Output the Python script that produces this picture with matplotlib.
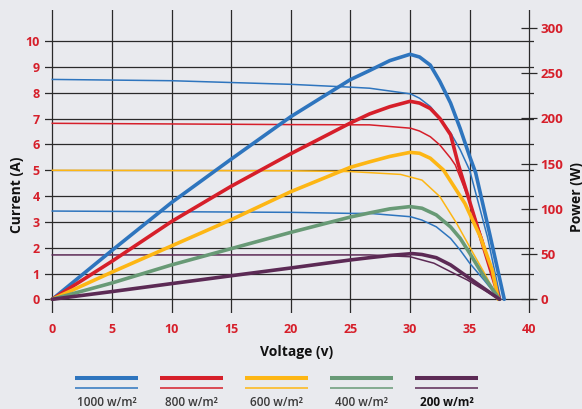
import matplotlib.pyplot as plt

plt.rcParams['font.family'] = ['Open Sans', 'DejaVu Sans']

# I-V curves (current, A)
v_i1000 = [0, 10, 20, 25, 26.6, 30.05, 30.8, 31.7, 32.5, 33.4, 34.2, 35.0, 36.5, 37.6]
i_1000 = [8.52, 8.47, 8.33, 8.22, 8.18, 7.96, 7.79, 7.47, 7.02, 6.45, 5.8, 5.0, 2.4, 0]
v_i800 = [0, 20, 26.6, 30.05, 30.8, 31.7, 32.5, 33.4, 33.8, 34.9, 36.1, 37.5]
i_800 = [6.82, 6.77, 6.76, 6.63, 6.52, 6.3, 5.98, 5.47, 5.2, 3.9, 2.3, 0]
v_i600 = [0, 20, 25, 29.2, 31, 32.5, 33.9, 35.3, 36.4, 37.4]
i_600 = [5.0, 4.98, 4.95, 4.84, 4.62, 3.98, 2.95, 1.78, 0.88, 0]
v_i400 = [0, 20, 25, 26.6, 30.05, 31, 32.2, 33.4, 34.2, 35, 36.2, 37.5]
i_400 = [3.42, 3.37, 3.33, 3.33, 3.2, 3.07, 2.81, 2.36, 1.91, 1.4, 0.75, 0]
v_i200 = [0, 20, 26.6, 30, 32, 33.4, 34.8, 36.2, 37.5]
i_200 = [1.72, 1.72, 1.72, 1.65, 1.4, 1.07, 0.75, 0.36, 0]

# P-V curves (power, W)
v_p1000 = [0, 5, 10, 15, 20, 25, 26.6, 28.3, 30, 30.8, 31.7, 32.5, 33.4, 34.2, 35, 35.5, 36.7, 37.9]
p_1000 = [0, 54, 107, 155, 202, 243, 253, 264, 271, 268, 259, 241, 217, 189, 158, 140, 71, 0]
v_p800 = [0, 5, 10, 15, 20, 25, 26.6, 28.3, 30, 30.8, 31.7, 32.5, 33.4, 34.05, 35.0, 36.2, 37.5]
p_800 = [0, 42, 86, 125, 161, 195, 205, 213, 219, 217, 211, 200, 182, 149, 108, 56, 0]
v_p600 = [0, 5, 10, 15, 20, 25, 26.6, 28.3, 30, 30.8, 31.7, 32.8, 34.6, 35.9, 36.9, 37.4]
p_600 = [0, 30, 59, 88, 119, 146, 152, 158, 162.5, 161.5, 156, 143, 106, 69, 32, 0]
v_p400 = [0, 5, 10, 15, 20, 25, 26.6, 28.3, 30, 31, 32.2, 33.4, 34.2, 35, 36.2, 37.5]
p_400 = [0, 18, 38, 56, 74, 91, 95.5, 100, 102.5, 100.7, 93.3, 80, 67.5, 51, 25, 0]
v_p200 = [0, 5, 10, 15, 20, 25, 26.6, 28.3, 30.2, 31, 32.2, 33.4, 34.8, 36.2, 37.5]
p_200 = [0, 8.5, 17.3, 26, 34.6, 43.5, 46, 48.5, 50.5, 49.5, 46, 38, 25, 12, 0]

labels = ['1000 w/m²', '800 w/m²', '600 w/m²', '400 w/m²', '200 w/m²']
colors = ['#2e75be', '#d61f2a', '#fdb614', '#689a76', '#5c2a55']
# the 400 w/m² current line is drawn blue in the original
thin_colors = ['#2e75be', '#d61f2a', '#fdb614', '#2e75be', '#5c2a55']

current = [(v_i1000, i_1000), (v_i800, i_800), (v_i600, i_600),
           (v_i400, i_400), (v_i200, i_200)]
power = [(v_p1000, p_1000), (v_p800, p_800), (v_p600, p_600),
         (v_p400, p_400), (v_p200, p_200)]

red = '#d61f2a'
bg = '#e9eaee'

fig = plt.figure(figsize=(5.82, 4.09), dpi=100, facecolor=bg)
ax = fig.add_axes([45.3 / 582, 96 / 409, 489 / 582, 303 / 409])
ax.set_facecolor('none')
ax.set_xlim(-0.587, 40.42)
ax.set_ylim(-0.53, 11.21)
ax.set_xticks(range(0, 41, 5))
ax.set_yticks(range(0, 11))
ax.grid(True, color='#2a2a2a', lw=0.9)
ax.set_axisbelow(True)
for s in ax.spines.values():
    s.set_visible(False)
ax.tick_params(axis='both', length=0, labelcolor=red, labelsize=9)
ax.tick_params(axis='x', pad=7)
ax.tick_params(axis='y', pad=4)
for t in ax.get_xticklabels() + ax.get_yticklabels():
    t.set_fontweight('bold')

for (v, i), c in zip(current, thin_colors):
    ax.plot(v, i, color=c, lw=1.1, zorder=3)

ax2 = ax.twinx()
ax2.set_ylim(-15.2, 320)
ax2.set_yticks(range(0, 301, 50))
for s in ax2.spines.values():
    s.set_visible(False)
ax2.spines['right'].set_position(('data', 40))
ax2.tick_params(axis='y', direction='inout', length=11, width=0.9,
                color='#2a2a2a', labelcolor=red, labelsize=9.5, pad=2.5)
for t in ax2.get_yticklabels():
    t.set_fontweight('bold')

for (v, p), c in zip(power, colors):
    ax2.plot(v, p, color=c, lw=2.6, zorder=4, solid_capstyle='round',
             solid_joinstyle='round')

fig.text(17 / 582, 1 - 195 / 409, 'Current (A)', rotation=90, ha='center',
         va='center', fontsize=10, fontweight='bold', color='#111111')
fig.text(577 / 582, 1 - 197 / 409, 'Power (W)', rotation=90, ha='center',
         va='center', fontsize=10, fontweight='bold', color='#111111')
fig.text(296.5 / 582, 1 - 352 / 409, 'Voltage (v)', ha='center',
         va='center', fontsize=10, fontweight='bold', color='#111111')

# legend: thick (power) over thin (current) line, label underneath
leg = fig.add_axes([0, 0, 1, 1])
leg.set_xlim(0, 582)
leg.set_ylim(409, 0)
leg.axis('off')
leg.patch.set_visible(False)
for k, (lab, c) in enumerate(zip(labels, colors)):
    x0 = 75 + 85 * k
    leg.plot([x0, x0 + 63], [378, 378], color=c, lw=2.9, solid_capstyle='butt')
    leg.plot([x0, x0 + 63], [388, 388], color=c, lw=1.1, solid_capstyle='butt')
    last = k == len(labels) - 1
    leg.text(x0 + 31.5, 402, lab, ha='center', va='center', fontsize=8.5,
             fontweight='bold' if last else 'semibold',
             color='#111111' if last else '#3a3a3a')

fig.savefig('out.png', dpi=100, facecolor=bg)
